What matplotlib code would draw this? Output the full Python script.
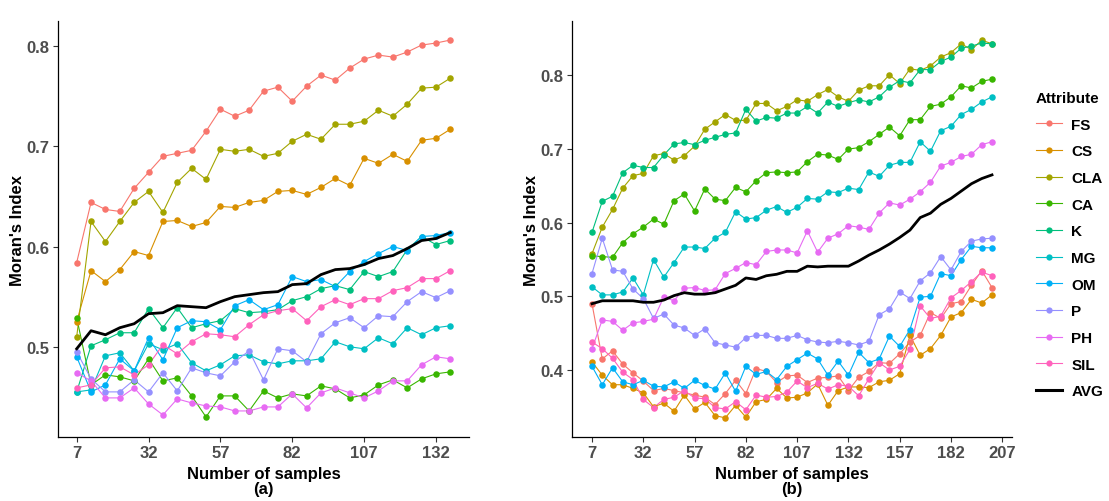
import matplotlib
matplotlib.use("Agg")
import matplotlib.pyplot as plt
from matplotlib.lines import Line2D

plt.rcParams['font.family'] = ['Liberation Sans', 'DejaVu Sans']

# ---------------- data ----------------
x_a = list(range(7, 138, 5))
x_b = list(range(7, 203, 5))
ticks_a = [7, 32, 57, 82, 107, 132]
ticks_b = [7, 32, 57, 82, 107, 132, 157, 182, 207]

attributes = ["FS", "CS", "CLA", "CA", "K", "MG", "OM", "P", "PH", "SIL"]
colors = ["#F8766D", "#D89000", "#A3A500", "#39B600", "#00BF7D",
          "#00BFC4", "#00B0F6", "#9590FF", "#E76BF3", "#FF62BC"]

FS_a = [0.584,0.644,0.637,0.635,0.658,0.674,0.690,0.693,0.696,0.715,0.737,0.730,0.736,0.755,0.759,0.745,0.760,0.771,0.766,0.778,0.787,0.791,0.789,0.794,0.801,0.803,0.806]
CS_a = [0.525,0.576,0.565,0.577,0.595,0.591,0.625,0.626,0.620,0.624,0.640,0.639,0.644,0.646,0.655,0.656,0.652,0.659,0.668,0.661,0.688,0.683,0.692,0.685,0.706,0.708,0.717]
CLA_a = [0.510,0.625,0.605,0.625,0.644,0.655,0.634,0.664,0.678,0.667,0.697,0.695,0.697,0.690,0.693,0.705,0.712,0.707,0.722,0.722,0.725,0.736,0.730,0.742,0.758,0.759,0.768]
CA_a = [0.529,0.462,0.472,0.470,0.466,0.488,0.466,0.469,0.451,0.430,0.451,0.451,0.436,0.456,0.449,0.453,0.451,0.461,0.458,0.449,0.452,0.462,0.467,0.459,0.468,0.473,0.475]
K_a = [0.455,0.501,0.507,0.514,0.514,0.538,0.519,0.539,0.519,0.523,0.526,0.538,0.534,0.535,0.537,0.546,0.550,0.558,0.561,0.557,0.575,0.570,0.575,0.597,0.610,0.602,0.606]
MG_a = [0.455,0.457,0.491,0.494,0.476,0.503,0.497,0.503,0.484,0.476,0.482,0.491,0.492,0.485,0.483,0.486,0.486,0.488,0.505,0.500,0.498,0.509,0.503,0.519,0.512,0.519,0.521]
OM_a = [0.490,0.455,0.462,0.488,0.476,0.509,0.487,0.519,0.526,0.525,0.517,0.541,0.547,0.537,0.542,0.570,0.565,0.567,0.560,0.575,0.585,0.593,0.600,0.596,0.610,0.611,0.614]
P_a = [0.495,0.468,0.455,0.455,0.467,0.455,0.474,0.456,0.479,0.474,0.471,0.485,0.496,0.467,0.498,0.496,0.485,0.513,0.524,0.529,0.519,0.531,0.530,0.545,0.555,0.549,0.556]
PH_a = [0.474,0.466,0.449,0.449,0.459,0.443,0.432,0.448,0.444,0.441,0.440,0.436,0.436,0.440,0.440,0.453,0.439,0.454,0.459,0.454,0.449,0.456,0.466,0.466,0.482,0.490,0.488]
SIL_a = [0.459,0.462,0.479,0.480,0.472,0.482,0.502,0.493,0.505,0.513,0.512,0.510,0.522,0.532,0.536,0.538,0.526,0.540,0.547,0.542,0.548,0.548,0.556,0.559,0.568,0.568,0.576]
AVG_a = [0.498,0.516,0.512,0.519,0.523,0.533,0.534,0.541,0.540,0.539,0.545,0.550,0.552,0.554,0.555,0.562,0.563,0.572,0.577,0.578,0.582,0.588,0.591,0.598,0.606,0.608,0.614]

FS_b = [0.490,0.415,0.426,0.408,0.396,0.385,0.372,0.375,0.372,0.369,0.366,0.363,0.353,0.368,0.386,0.368,0.402,0.398,0.383,0.392,0.393,0.383,0.389,0.390,0.392,0.372,0.390,0.398,0.410,0.409,0.422,0.438,0.447,0.478,0.470,0.490,0.493,0.515,0.535,0.512]
CS_b = [0.411,0.393,0.380,0.380,0.375,0.369,0.350,0.355,0.344,0.366,0.347,0.356,0.338,0.335,0.352,0.336,0.357,0.360,0.375,0.362,0.363,0.369,0.381,0.352,0.372,0.377,0.377,0.376,0.384,0.386,0.395,0.447,0.420,0.429,0.447,0.472,0.478,0.496,0.491,0.502]
CLA_b = [0.558,0.594,0.618,0.647,0.664,0.667,0.691,0.694,0.685,0.691,0.704,0.727,0.737,0.747,0.739,0.739,0.762,0.762,0.752,0.758,0.767,0.765,0.774,0.781,0.771,0.765,0.780,0.786,0.786,0.801,0.789,0.809,0.807,0.813,0.825,0.831,0.843,0.835,0.848,0.843]
CA_b = [0.555,0.554,0.553,0.573,0.585,0.594,0.605,0.598,0.630,0.639,0.616,0.646,0.632,0.630,0.648,0.642,0.657,0.668,0.669,0.668,0.669,0.683,0.693,0.692,0.686,0.700,0.702,0.710,0.720,0.730,0.718,0.740,0.740,0.758,0.761,0.771,0.786,0.783,0.792,0.795]
K_b = [0.587,0.629,0.636,0.668,0.678,0.675,0.675,0.692,0.707,0.709,0.706,0.712,0.716,0.720,0.722,0.754,0.738,0.743,0.742,0.749,0.749,0.758,0.749,0.764,0.758,0.763,0.767,0.764,0.771,0.784,0.793,0.790,0.808,0.808,0.819,0.825,0.837,0.840,0.844,0.843]
MG_b = [0.513,0.502,0.502,0.506,0.525,0.502,0.550,0.526,0.546,0.567,0.567,0.565,0.579,0.587,0.615,0.605,0.607,0.617,0.622,0.614,0.621,0.633,0.632,0.642,0.641,0.647,0.645,0.669,0.663,0.678,0.682,0.682,0.710,0.697,0.725,0.731,0.747,0.754,0.764,0.771]
OM_b = [0.405,0.380,0.403,0.384,0.380,0.386,0.378,0.377,0.384,0.375,0.386,0.379,0.374,0.396,0.371,0.405,0.394,0.398,0.387,0.405,0.414,0.423,0.415,0.393,0.412,0.393,0.424,0.410,0.415,0.446,0.432,0.455,0.499,0.500,0.531,0.528,0.550,0.568,0.566,0.566]
P_b = [0.531,0.579,0.536,0.534,0.510,0.497,0.470,0.476,0.461,0.457,0.447,0.456,0.437,0.434,0.431,0.444,0.447,0.447,0.443,0.443,0.447,0.441,0.438,0.437,0.439,0.437,0.434,0.439,0.475,0.483,0.506,0.497,0.521,0.532,0.554,0.536,0.561,0.575,0.578,0.579]
PH_b = [0.429,0.468,0.466,0.454,0.464,0.466,0.469,0.499,0.494,0.511,0.512,0.508,0.509,0.531,0.538,0.546,0.543,0.561,0.563,0.563,0.559,0.589,0.560,0.579,0.585,0.596,0.594,0.591,0.613,0.627,0.624,0.632,0.642,0.655,0.677,0.682,0.690,0.693,0.706,0.710]
SIL_b = [0.438,0.429,0.416,0.397,0.387,0.360,0.349,0.360,0.363,0.372,0.362,0.361,0.349,0.347,0.357,0.346,0.366,0.363,0.364,0.370,0.385,0.376,0.382,0.374,0.380,0.378,0.365,0.388,0.410,0.400,0.405,0.428,0.487,0.470,0.473,0.498,0.508,0.520,0.533,0.528]
AVG_b = [0.490,0.494,0.494,0.494,0.494,0.492,0.492,0.495,0.501,0.505,0.503,0.503,0.505,0.510,0.515,0.525,0.523,0.528,0.530,0.534,0.534,0.541,0.540,0.541,0.541,0.541,0.548,0.556,0.563,0.571,0.580,0.590,0.607,0.613,0.625,0.633,0.643,0.653,0.660,0.665]

series_a = [FS_a, CS_a, CLA_a, CA_a, K_a, MG_a, OM_a, P_a, PH_a, SIL_a]
series_b = [FS_b, CS_b, CLA_b, CA_b, K_b, MG_b, OM_b, P_b, PH_b, SIL_b]

# ---------------- figure ----------------
fig = plt.figure(figsize=(11.09, 5.02), dpi=100)
W, H = 1109, 502
def box(l, r, t, b):
    return [l / W, 1 - b / H, (r - l) / W, (b - t) / H]

ax_a = fig.add_axes(box(58, 469, 22, 438))
ax_b = fig.add_axes(box(572, 1012, 22, 438))

def draw(ax, x, series, avg, xlim, ylim, yticks, xticks, panel):
    for s, c in zip(series, colors):
        ax.plot(x, s, color=c, lw=0.8, zorder=2)
    for s, c in zip(series, colors):
        ax.scatter(x, s, color=c, s=22, linewidths=0, zorder=3)
    ax.plot(x, avg, color="black", lw=2.0, zorder=4, solid_joinstyle="round")
    ax.set_xlim(*xlim)
    ax.set_ylim(*ylim)
    ax.set_xticks(xticks)
    ax.set_yticks(yticks)
    ax.set_yticklabels([f"{t:.1f}" for t in yticks])
    for side in ("top", "right"):
        ax.spines[side].set_visible(False)
    for side in ("left", "bottom"):
        ax.spines[side].set_color("black")
        ax.spines[side].set_linewidth(0.9)
    ax.tick_params(axis="both", length=3.5, width=0.8, color="#333333",
                   labelsize=12, labelcolor="#4D4D4D", pad=2.5)
    for lab in ax.get_xticklabels() + ax.get_yticklabels():
        lab.set_fontweight("bold")
    ax.set_xlabel(f"Number of samples\n{panel}", fontsize=12, fontweight="bold",
                  labelpad=4, linespacing=1.0)
    ax.set_ylabel("Moran's Index", fontsize=12, fontweight="bold", labelpad=1)

draw(ax_a, x_a, series_a, AVG_a, (0.5, 143.5), (0.410, 0.825),
     [0.5, 0.6, 0.7, 0.8], ticks_a, "(a)")
draw(ax_b, x_b, series_b, AVG_b, (-2.75, 211.75), (0.309, 0.874),
     [0.4, 0.5, 0.6, 0.7, 0.8], ticks_b, "(b)")

handles = [Line2D([0], [0], color=c, lw=0.8, marker="o", markersize=4.5,
                  markeredgewidth=0) for c in colors]
handles.append(Line2D([0], [0], color="black", lw=2.2))
labels = attributes + ["AVG"]
leg = fig.legend(handles, labels, title="Attribute", loc="upper left",
                 bbox_to_anchor=(1030 / W, 1 - 86 / H), frameon=False,
                 prop={"weight": "bold", "size": 11}, handlelength=1.7,
                 handletextpad=0.6, labelspacing=0.83, borderaxespad=0)
leg.get_title().set_fontweight("bold")
leg.get_title().set_fontsize(11)
leg._legend_box.align = "left"
leg._legend_box.sep = 9

fig.savefig("out.png", dpi=100)
